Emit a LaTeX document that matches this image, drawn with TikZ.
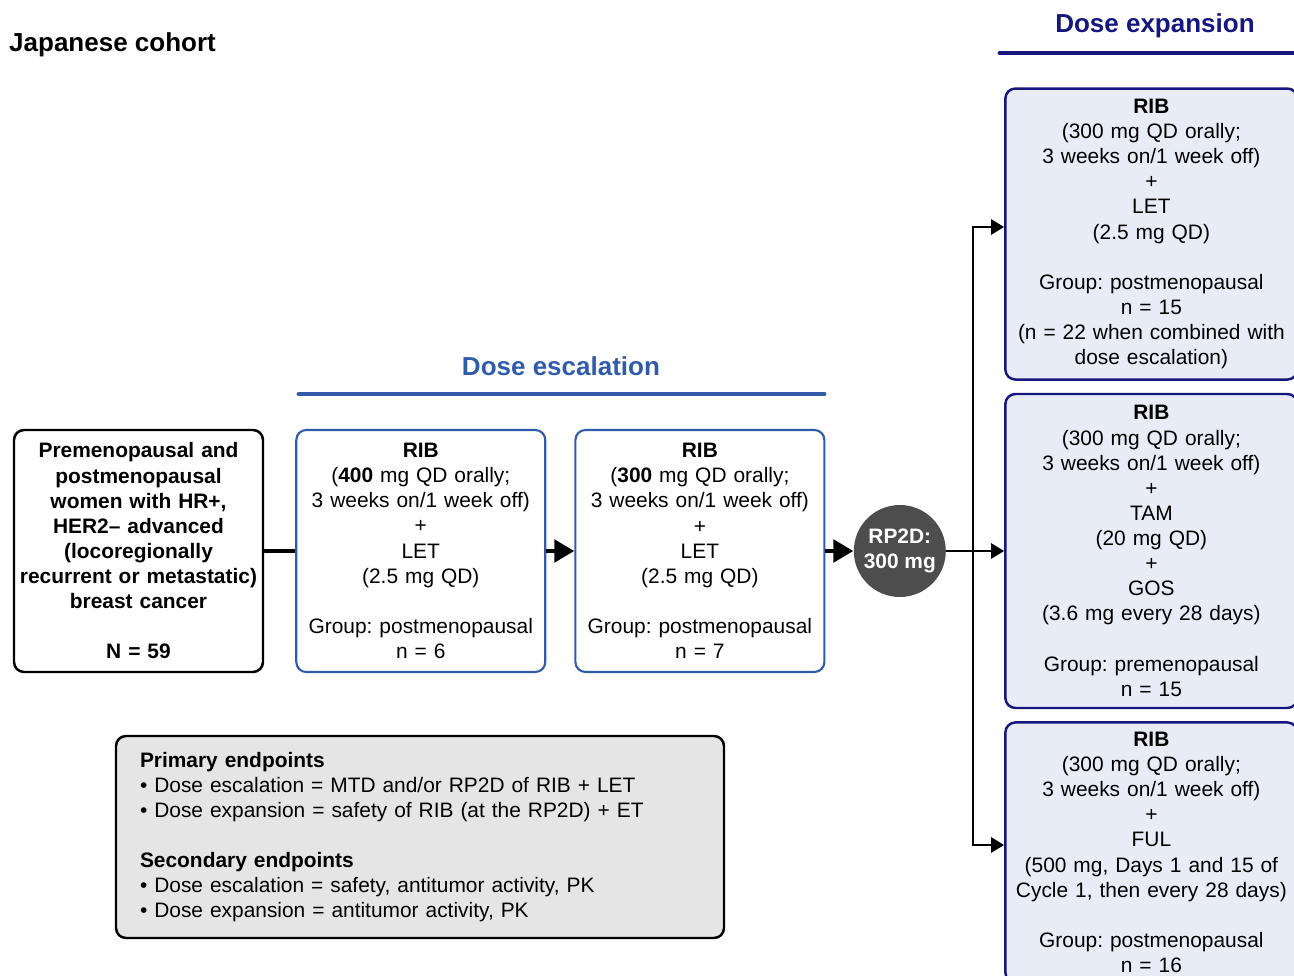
\documentclass[tikz,border=0pt]{standalone}
\usepackage{fontspec}
\setmainfont{Liberation Sans}
\usetikzlibrary{positioning}
\usetikzlibrary{arrows.meta}
\definecolor{escblue}{HTML}{2F5BAA}
\definecolor{expnavy}{HTML}{16167F}
\definecolor{expfill}{HTML}{E8ECF6}
\definecolor{endfill}{HTML}{E5E5E5}
\definecolor{rpgray}{HTML}{4D4D4D}
\frenchspacing

\begin{document}
\begin{tikzpicture}
[-,%
  every node/.style={align=center,font=\fontsize{11.9}{14.3}\selectfont},%
  box/.style={draw,rounded corners=0.2cm,inner xsep=0pt,inner ysep=2pt,text width=4.98cm,minimum height=4.84cm},%
  popbox/.style={box,black,line width=1.4pt,font=\fontsize{11.9}{14.3}\selectfont\bfseries},%
  escbox/.style={box,draw=escblue,line width=1.2pt},%
  expbox/.style={box,draw=expnavy,fill=expfill,line width=1.4pt,text width=5.84cm},%
  rpnode/.style={circle,fill=rpgray,text=white,minimum size=1.84cm,inner sep=0pt,font=\fontsize{11.9}{14.3}\selectfont\bfseries},%
  endbox/.style={draw,fill=endfill,line width=1.4pt,rounded corners=0.2cm,align=left,text width=11.2cm,inner xsep=0.48cm,minimum height=4.04cm},%
  heading/.style={font=\fontsize{14.8}{17}\selectfont\bfseries},%
  rule/.style={line width=2.8pt,line cap=round},%
  link/.style={line width=2.8pt},%
  bigarrow/.style={line width=2.8pt,-{Triangle[length=0.4cm,width=0.44cm]}},%
  forkarrow/.style={line width=1.6pt,-{Triangle[length=0.26cm,width=0.3cm]}}]
\useasboundingbox (0,0) rectangle (25.88,-19.52);
\node[heading,anchor=west] (cohort) at (0.06,-0.9) {Japanese cohort};
\node[popbox] (pop) at (2.77,-11.02) {Premenopausal and\\ postmenopausal\\ women with HR+,\\ HER2– advanced\\ (locoregionally\\ recurrent or metastatic)\\ breast cancer\\ ~\\ N = 59};
\node[escbox,right=0.62cm of pop] (esc1) {\textbf{RIB}\\ (\textbf{400} mg QD orally;\\ 3 weeks on/1 week off)\\ +\\ LET\\ (2.5 mg QD)\\ ~\\ Group: postmenopausal\\ n = 6};
\node[escbox,right=0.56cm of esc1] (esc2) {\textbf{RIB}\\ (\textbf{300} mg QD orally;\\ 3 weeks on/1 week off)\\ +\\ LET\\ (2.5 mg QD)\\ ~\\ Group: postmenopausal\\ n = 7};
\node[rpnode,right=0.56cm of esc2] (rp2d) {RP2D:\\ 300 mg};
\node[expbox,right=1.16cm of rp2d,minimum height=6.28cm] (exp2) {\textbf{RIB}\\ (300 mg QD orally;\\ 3 weeks on/1 week off)\\ +\\ TAM\\ (20 mg QD)\\ +\\ GOS\\ (3.6 mg every 28 days)\\ ~\\ Group: premenopausal\\ n = 15};
\node[expbox,above=0.24cm of exp2,minimum height=5.82cm] (exp1) {\textbf{RIB}\\ (300 mg QD orally;\\ 3 weeks on/1 week off)\\ +\\ LET\\ (2.5 mg QD)\\ ~\\ Group: postmenopausal\\ n = 15\\ (n = 22 when combined with\\ dose escalation)};
\node[expbox,below=0.24cm of exp2,minimum height=5.2cm] (exp3) {\textbf{RIB}\\ (300 mg QD orally;\\ 3 weeks on/1 week off)\\ +\\ FUL\\ (500 mg, Days 1 and 15 of\\ Cycle 1, then every 28 days)\\ ~\\ Group: postmenopausal\\ n = 16};
\node[heading,text=escblue] (esctitle) at (11.22,-7.32) {Dose escalation};
\node[heading,text=expnavy] (exptitle) at (23.1,-0.52) {Dose expansion};
\draw[rule,escblue] (5.98,-7.88) -- (16.48,-7.88);
\draw[rule,expnavy] (20.0,-1.06) -- (26.2,-1.06);
\node[endbox] (ends) at (8.4,-16.74) {\textbf{Primary endpoints}\\ • Dose escalation = MTD and/or RP2D of RIB + LET\\ • Dose expansion = safety of RIB (at the RP2D) + ET\\ ~\\ \textbf{Secondary endpoints}\\ • Dose escalation = safety, antitumor activity, PK\\ • Dose expansion = antitumor activity, PK};
\coordinate (forktop) at (19.46,-4.54);
\coordinate (forkbot) at (19.46,-16.9);
\draw[link] (pop) -- (esc1);
\draw[bigarrow] (esc1) -- (esc2);
\draw[bigarrow] (esc2) -- (rp2d);
\draw[forkarrow] (rp2d) -- (exp2);
\draw[forkarrow] (forkbot) -- (forktop) -- (forktop -| exp1.west);
\draw[forkarrow] (forktop) -- (forkbot) -- (forkbot -| exp3.west);
\end{tikzpicture}
\end{document}
